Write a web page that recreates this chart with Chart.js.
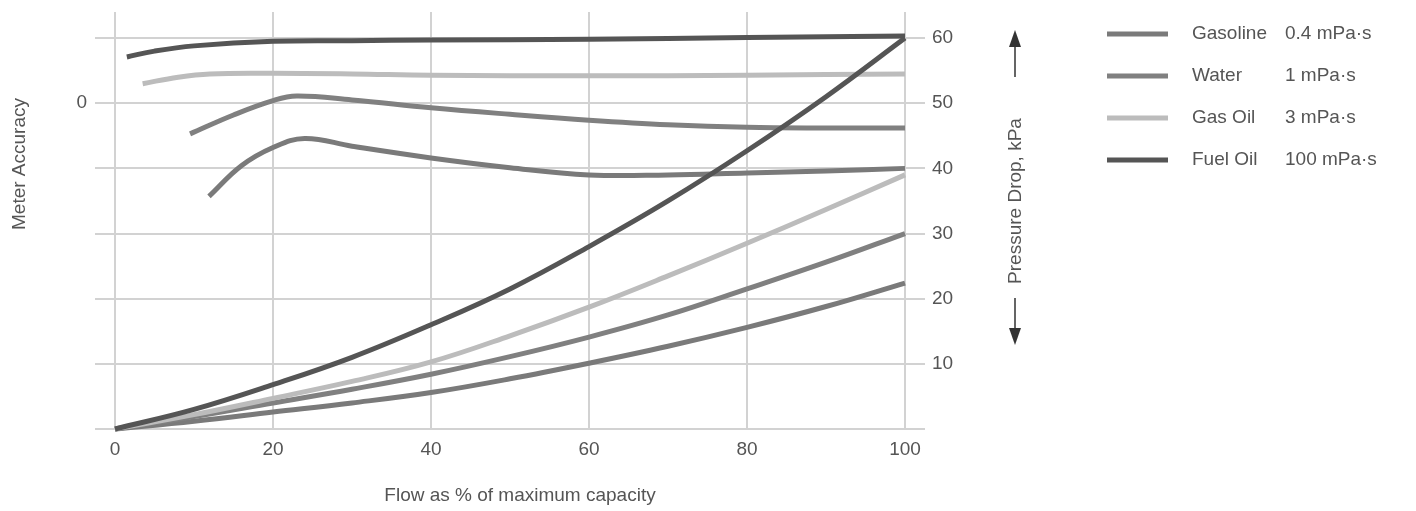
<!DOCTYPE html>
<html>
<head>
<meta charset="utf-8">
<script src="https://cdn.jsdelivr.net/npm/chart.js@4/dist/chart.umd.min.js"></script>
<style>
  html, body { margin: 0; padding: 0; background: #fff; }
  #wrap { width: 1416px; height: 511px; }
</style>
</head>
<body>
<div id="wrap"><canvas id="chart" width="1416" height="511"></canvas></div>
<script>
// fluids and their viscosities
var fluids = ['Gasoline', 'Water', 'Gas Oil', 'Fuel Oil'];
var viscosity = ['0.4 mPa\u00b7s', '1 mPa\u00b7s', '3 mPa\u00b7s', '100 mPa\u00b7s'];
var colours = ['#7a7a7a', '#808080', '#bcbcbc', '#555555'];

// pressure drop (kPa) against flow (%)
var flow = [0, 10, 20, 30, 40, 50, 60, 70, 80, 90, 100];
var dropGasoline = [0, 1.2, 2.6, 4.0, 5.6, 7.7, 10.1, 12.7, 15.6, 18.8, 22.4];
var dropWater = [0, 1.9, 4.0, 6.1, 8.4, 11.1, 14.1, 17.5, 21.5, 25.6, 30];
var dropGasOil = [0, 2.2, 4.7, 7.3, 10.3, 14.3, 18.7, 23.5, 28.5, 33.7, 39];
var dropFuelOil = [0, 3.0, 6.8, 11, 16, 21.5, 28, 35, 42.7, 51, 60];

// meter accuracy curves (plotted on the same vertical scale, "0" sits at 50)
var accFlowGasoline = [11.9, 16, 20, 24, 30, 40, 50, 60, 70, 80, 90, 100];
var accGasoline = [35.7, 40.4, 43.2, 44.6, 43.4, 41.6, 40.1, 39.0, 39.0, 39.3, 39.6, 40];
var accFlowWater = [9.5, 15, 20, 23, 30, 40, 50, 60, 70, 80, 90, 100];
var accWater = [45.3, 48.2, 50.4, 51.1, 50.5, 49.3, 48.3, 47.4, 46.7, 46.3, 46.2, 46.2];
var accFlowGasOil = [3.5, 8, 12, 20, 30, 40, 60, 80, 100];
var accGasOil = [53.0, 54.0, 54.5, 54.6, 54.5, 54.3, 54.2, 54.3, 54.5];
var accFlowFuelOil = [1.5, 5, 10, 20, 30, 40, 60, 80, 100];
var accFuelOil = [57.1, 58, 58.8, 59.5, 59.6, 59.7, 59.8, 60.1, 60.3];

var xTicks = [0, 20, 40, 60, 80, 100];
var yTicks = [0, 10, 20, 30, 40, 50, 60];

var textColour = '#555';
var gridColour = '#d2d2d2';
Chart.defaults.font.family = "'Liberation Sans', Arial, sans-serif";
Chart.defaults.color = textColour;

function pairs(xs, ys) {
    return xs.map((x, i) => ({x: x, y: ys[i]}));
}

function curve(label, xs, ys, colour, order) {
    return {
        label: label,
        data: pairs(xs, ys),
        borderColor: colour,
        borderWidth: 5,
        pointRadius: 0,
        fill: false,
        tension: 0.4,
        clip: false,
        order: order,
        yAxisID: 'y'
    };
}

var extras = {
    id: 'extras',
    afterDraw: function (chart) {
        var c = chart.ctx;
        c.save();
        c.fillStyle = textColour;
        c.font = "19px 'Liberation Sans', Arial, sans-serif";
        c.textBaseline = 'middle';

        // legend
        for (var i = 0; i < fluids.length; i++) {
            var y = 34 + i * 42;
            c.strokeStyle = colours[i];
            c.lineWidth = 5;
            c.beginPath();
            c.moveTo(1107, y);
            c.lineTo(1168, y);
            c.stroke();
            c.textAlign = 'left';
            c.fillText(fluids[i], 1192, y);
            c.fillText(viscosity[i], 1285, y);
        }

        // x title
        c.textAlign = 'center';
        c.fillText('Flow as % of maximum capacity', 520, 496);

        // left title
        c.save();
        c.translate(20, 164);
        c.rotate(-Math.PI / 2);
        c.fillText('Meter Accuracy', 0, 0);
        c.restore();

        // right title with arrows
        c.save();
        c.translate(1016, 201);
        c.rotate(-Math.PI / 2);
        c.fillText('Pressure Drop, kPa', 0, 0);
        c.restore();

        c.strokeStyle = '#333';
        c.fillStyle = '#333';
        c.lineWidth = 1.5;
        c.beginPath();
        c.moveTo(1015, 77);
        c.lineTo(1015, 45);
        c.moveTo(1015, 298);
        c.lineTo(1015, 332);
        c.stroke();
        c.beginPath();
        c.moveTo(1015, 30);
        c.lineTo(1009, 47);
        c.lineTo(1021, 47);
        c.closePath();
        c.fill();
        c.beginPath();
        c.moveTo(1015, 345);
        c.lineTo(1009, 328);
        c.lineTo(1021, 328);
        c.closePath();
        c.fill();
        c.restore();
    }
};

var ctx = document.getElementById('chart').getContext('2d');

var chart = new Chart(ctx, {
    type: 'line',
    data: {
        datasets: [
            curve('Fuel Oil drop', flow, dropFuelOil, colours[3], 1),
            curve('Gas Oil drop', flow, dropGasOil, colours[2], 3),
            curve('Water drop', flow, dropWater, colours[1], 4),
            curve('Gasoline drop', flow, dropGasoline, colours[0], 5),
            curve('Fuel Oil accuracy', accFlowFuelOil, accFuelOil, colours[3], 2),
            curve('Gas Oil accuracy', accFlowGasOil, accGasOil, colours[2], 6),
            curve('Water accuracy', accFlowWater, accWater, colours[1], 7),
            curve('Gasoline accuracy', accFlowGasoline, accGasoline, colours[0], 8)
        ]
    },
    options: {
        responsive: false,
        animation: false,
        layout: { padding: { top: 12, left: 0, right: 0, bottom: 0 } },
        plugins: {
            legend: { display: false },
            tooltip: { enabled: false }
        },
        scales: {
            x: {
                type: 'linear',
                min: 0,
                max: 100,
                afterBuildTicks: s => { s.ticks = xTicks.map(v => ({value: v})); },
                ticks: { font: { size: 19 }, padding: 9, color: textColour },
                grid: { color: gridColour, lineWidth: 2, drawTicks: false },
                border: { display: false },
                afterFit: s => { s.height = 82; s.paddingLeft = 0; s.paddingRight = 0; }
            },
            y: {
                position: 'right',
                min: 0,
                max: 64,
                afterBuildTicks: s => { s.ticks = yTicks.map(v => ({value: v})); },
                ticks: {
                    font: { size: 19 },
                    padding: 7,
                    color: textColour,
                    callback: v => v === 0 ? '' : v
                },
                grid: { color: gridColour, lineWidth: 2, tickLength: 20 },
                border: { display: false },
                afterFit: s => { s.width = 511; s.paddingTop = 0; s.paddingBottom = 0; }
            },
            yl: {
                position: 'left',
                min: 0,
                max: 64,
                afterBuildTicks: s => { s.ticks = yTicks.map(v => ({value: v})); },
                ticks: {
                    font: { size: 19 },
                    padding: 8,
                    color: textColour,
                    callback: v => v === 50 ? '0' : ''
                },
                grid: { color: gridColour, lineWidth: 2, tickLength: 20, drawOnChartArea: false },
                border: { display: false },
                afterFit: s => { s.width = 115; s.paddingTop = 0; s.paddingBottom = 0; }
            }
        }
    },
    plugins: [extras]
});
</script>
</body>
</html>
